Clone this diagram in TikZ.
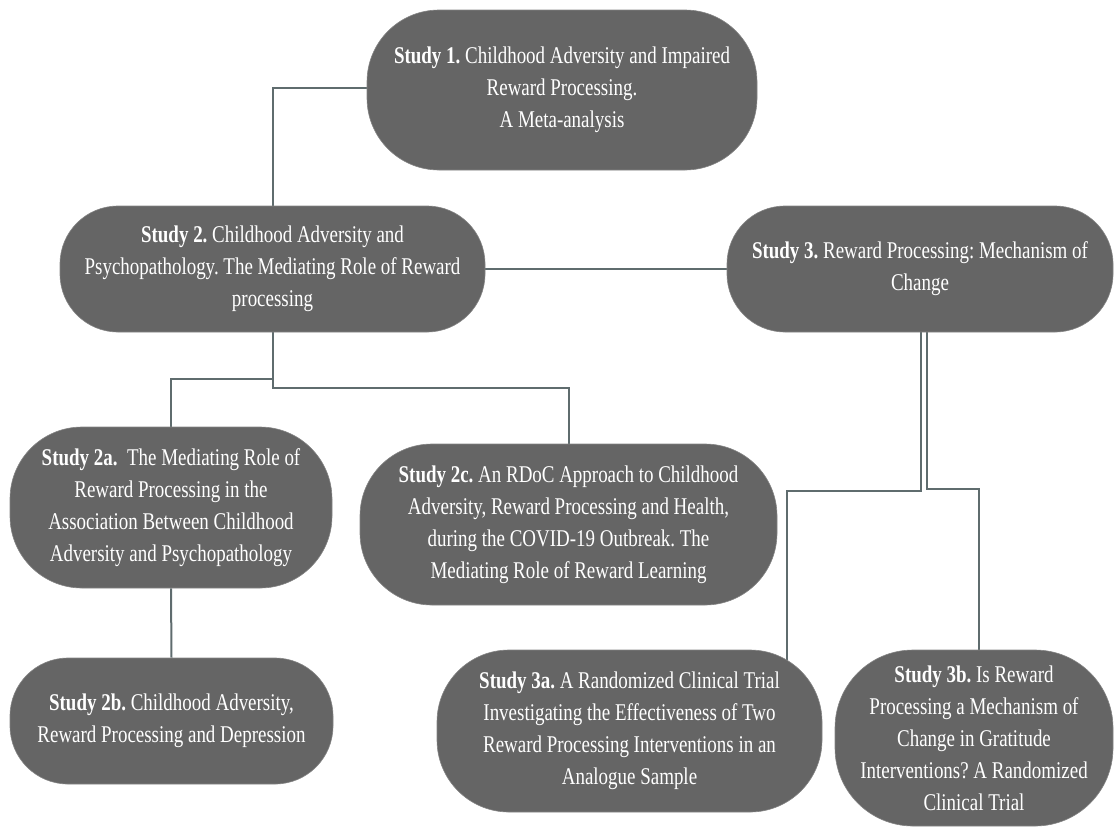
\documentclass[tikz,border=0pt]{standalone}
\usepackage{fontspec}
\setmainfont{Liberation Serif}[FakeStretch=0.79]
\usetikzlibrary{backgrounds}
\definecolor{boxgray}{RGB}{101,101,101}
\definecolor{linegray}{RGB}{95,108,110}
\begin{document}
\frenchspacing
\begin{tikzpicture}[x=1pt,y=-1pt,
  studybox/.style={fill=boxgray, draw=boxgray!80!white, line width=0.6pt, text=white, align=center, inner sep=0pt,
    font=\fontsize{24}{32}\selectfont},
  conn/.style={draw=linegray, line width=2pt}]
\useasboundingbox (0,0) rectangle (1115,830);
\node[studybox, minimum width=390, minimum height=160, rounded corners=72] (s1) at (562,90)
  {\textbf{Study 1.} Childhood Adversity and Impaired\\Reward Processing.\\A Meta-analysis};
\node[studybox, minimum width=425, minimum height=126, rounded corners=58] (s2) at (272.5,269)
  {\textbf{Study 2.} Childhood Adversity and\\Psychopathology. The Mediating Role of Reward\\processing};
\node[studybox, minimum width=386, minimum height=126, rounded corners=58] (s3) at (920,269)
  {\textbf{Study 3.} Reward Processing: Mechanism of\\Change};
\node[studybox, minimum width=322, minimum height=161, rounded corners=72] (s2a) at (171,507.5)
  {\textbf{Study 2a.}\ \ The Mediating Role of\\Reward Processing in the\\Association Between Childhood\\Adversity and Psychopathology};
\node[studybox, minimum width=417, minimum height=161, rounded corners=72] (s2c) at (568.5,524.5)
  {\textbf{Study 2c.} An RDoC Approach to Childhood\\Adversity, Reward Processing and Health,\\during the COVID-19 Outbreak. The\\Mediating Role of Reward Learning};
\node[studybox, minimum width=323, minimum height=126, rounded corners=58] (s2b) at (171.5,721)
  {\textbf{Study 2b.} Childhood Adversity,\\Reward Processing and Depression};
\node[studybox, minimum width=385, minimum height=162, rounded corners=72] (s3a) at (629.5,731)
  {\textbf{Study 3a.} A Randomized Clinical Trial\\Investigating the Effectiveness of Two\\Reward Processing Interventions in an\\Analogue Sample};
\node[studybox, minimum width=278, minimum height=176, rounded corners=78] (s3b) at (974,738)
  {\textbf{Study 3b.} Is Reward\\Processing a Mechanism of\\Change in Gratitude\\Interventions? A Randomized\\Clinical Trial};
\begin{scope}[on background layer]
\draw[conn] ([yshift=2]s1.west) -| (s2.north);
\draw[conn] (s2.east) -- (s3.west);
\draw[conn] (s2.south) -- ++(0,47) -| (s2a.north);
\draw[conn] (s2.south) -- ++(0,56) -| (s2c.north);
\draw[conn] (s2a.south) -- (s2b.north);
\draw[conn] ([xshift=1]s3.south) -- ++(0,159) -| ([xshift=157.5,yshift=-20]s3a.north);
\draw[conn] ([xshift=7]s3.south) -- ++(0,157) -| ([xshift=5]s3b.north);
\end{scope}
\end{tikzpicture}
\end{document}
